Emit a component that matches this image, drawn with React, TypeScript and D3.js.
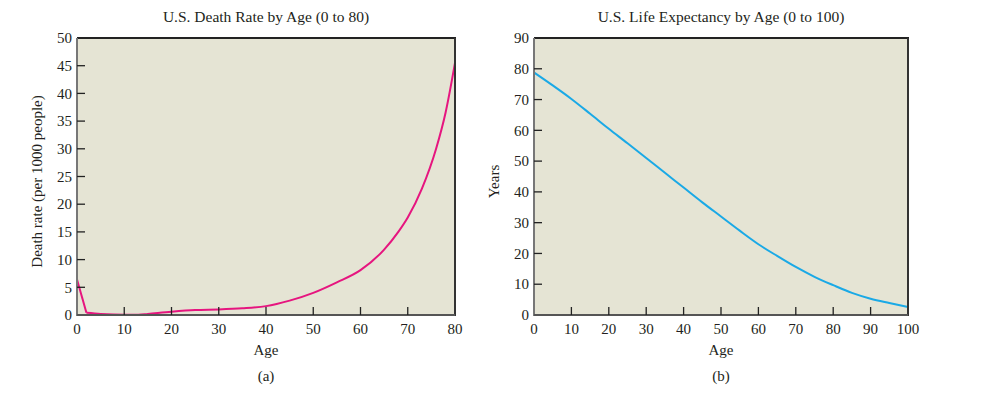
import React from "react";
import * as d3 from "d3";

const deathAges = [0, 2, 5, 10, 13, 15, 20, 25, 30, 35, 40, 45, 50, 55, 60, 65, 68, 70, 73, 76, 78, 80];
const deathRates = [6.4, 0.4, 0.2, 0.05, 0.05, 0.2, 0.6, 0.9, 1.0, 1.2, 1.6, 2.6, 4.0, 5.9, 8.1, 11.8, 15.0, 17.6, 22.8, 30.0, 36.5, 45.5];
const deathXTicks = [0, 10, 20, 30, 40, 50, 60, 70, 80];
const deathYTicks = [0, 5, 10, 15, 20, 25, 30, 35, 40, 45, 50];

const lifeAges = [0, 5, 10, 15, 20, 25, 30, 35, 40, 45, 50, 55, 60, 65, 70, 75, 80, 85, 90, 95, 100];
const lifeYears = [78.8, 74.6, 70.2, 65.4, 60.5, 55.8, 51.0, 46.2, 41.4, 36.6, 32.0, 27.4, 23.0, 19.2, 15.6, 12.4, 9.7, 7.2, 5.3, 3.9, 2.6];
const lifeXTicks = [0, 10, 20, 30, 40, 50, 60, 70, 80, 90, 100];
const lifeYTicks = [0, 10, 20, 30, 40, 50, 60, 70, 80, 90];

const FONT = "'Liberation Serif', 'DejaVu Serif', serif";
const BG = "#e5e4d4";

type PanelProps = {
  x0: number; x1: number; y0: number; y1: number;
  xDomain: [number, number]; yDomain: [number, number];
  xs: number[]; ys: number[]; xTicks: number[]; yTicks: number[];
  color: string; title: string; yLabel: string; yLabelX: number; tag: string;
  linearHead: number;
};

function Panel(p: PanelProps) {
  const x = d3.scaleLinear().domain(p.xDomain).range([p.x0, p.x1]);
  const y = d3.scaleLinear().domain(p.yDomain).range([p.y1, p.y0]);
  const pts: [number, number][] = p.xs.map((a, i) => [a, p.ys[i]]);
  const head = pts.slice(0, p.linearHead + 1);
  const tail = pts.slice(p.linearHead);
  const lineLin = d3.line<[number, number]>().x((d) => x(d[0])).y((d) => y(d[1]));
  const lineSmooth = d3.line<[number, number]>().x((d) => x(d[0])).y((d) => y(d[1])).curve(d3.curveMonotoneX);
  const cx = (p.x0 + p.x1) / 2;
  const cy = (p.y0 + p.y1) / 2;
  return (
    <g fontFamily={FONT} fill="#231f20">
      <text x={cx} y={22} textAnchor="middle" fontSize={15.5}>{p.title}</text>
      <rect x={p.x0} y={p.y0} width={p.x1 - p.x0} height={p.y1 - p.y0} fill={BG} />
      {head.length > 1 && (
        <path d={lineLin(head) || ""} fill="none" stroke={p.color} strokeWidth={2} strokeLinejoin="round" />
      )}
      <path d={lineSmooth(tail) || ""} fill="none" stroke={p.color} strokeWidth={2} strokeLinejoin="round" />
      {/* frame */}
      <line x1={p.x0} x2={p.x1 + 1} y1={p.y0} y2={p.y0} stroke="#222" strokeWidth={2} />
      <line x1={p.x1} x2={p.x1} y1={p.y0} y2={p.y1 + 1} stroke="#333" strokeWidth={2} />
      <line x1={p.x0} x2={p.x0} y1={p.y0} y2={p.y1 + 1} stroke="#777" strokeWidth={2} />
      <line x1={p.x0} x2={p.x1} y1={p.y1} y2={p.y1} stroke="#555" strokeWidth={2} />
      {p.yTicks.map((t) => (
        <g key={"y" + t}>
          {t !== p.yDomain[0] && t !== p.yDomain[1] && (
            <line x1={p.x0} x2={p.x0 + 8} y1={y(t)} y2={y(t)} stroke="#222" strokeWidth={1.3} />
          )}
          <text x={p.x0 - 5} y={y(t)} dy="0.35em" textAnchor="end" fontSize={15}>{t}</text>
        </g>
      ))}
      {p.xTicks.map((t) => (
        <g key={"x" + t}>
          {t !== p.xDomain[0] && t !== p.xDomain[1] && (
            <line x1={x(t)} x2={x(t)} y1={p.y1} y2={p.y1 - 8} stroke="#222" strokeWidth={1.3} />
          )}
          <text x={x(t)} y={p.y1 + 19} textAnchor="middle" fontSize={15}>{t}</text>
        </g>
      ))}
      <text x={cx} y={355} textAnchor="middle" fontSize={15}>Age</text>
      <text x={cx} y={381} textAnchor="middle" fontSize={15}>{p.tag}</text>
      <text transform={`translate(${p.yLabelX},${cy + 5}) rotate(-90)`} textAnchor="middle" fontSize={15}>{p.yLabel}</text>
    </g>
  );
}

export default function App() {
  return (
    <svg width={1008} height={396} style={{ display: "block", position: "absolute", left: 0, top: 0 }}>
      <rect width={1008} height={396} fill="#fff" />
      <Panel x0={77} x1={455} y0={38} y1={315} xDomain={[0, 80]} yDomain={[0, 50]}
        xs={deathAges} ys={deathRates} xTicks={deathXTicks} yTicks={deathYTicks}
        color="#e6157f" title="U.S. Death Rate by Age (0 to 80)" yLabel="Death rate (per 1000 people)"
        yLabelX={42} tag="(a)" linearHead={1} />
      <Panel x0={534} x1={908} y0={38} y1={315} xDomain={[0, 100]} yDomain={[0, 90]}
        xs={lifeAges} ys={lifeYears} xTicks={lifeXTicks} yTicks={lifeYTicks}
        color="#1aa9e6" title="U.S. Life Expectancy by Age (0 to 100)" yLabel="Years"
        yLabelX={499} tag="(b)" linearHead={0} />
    </svg>
  );
}
